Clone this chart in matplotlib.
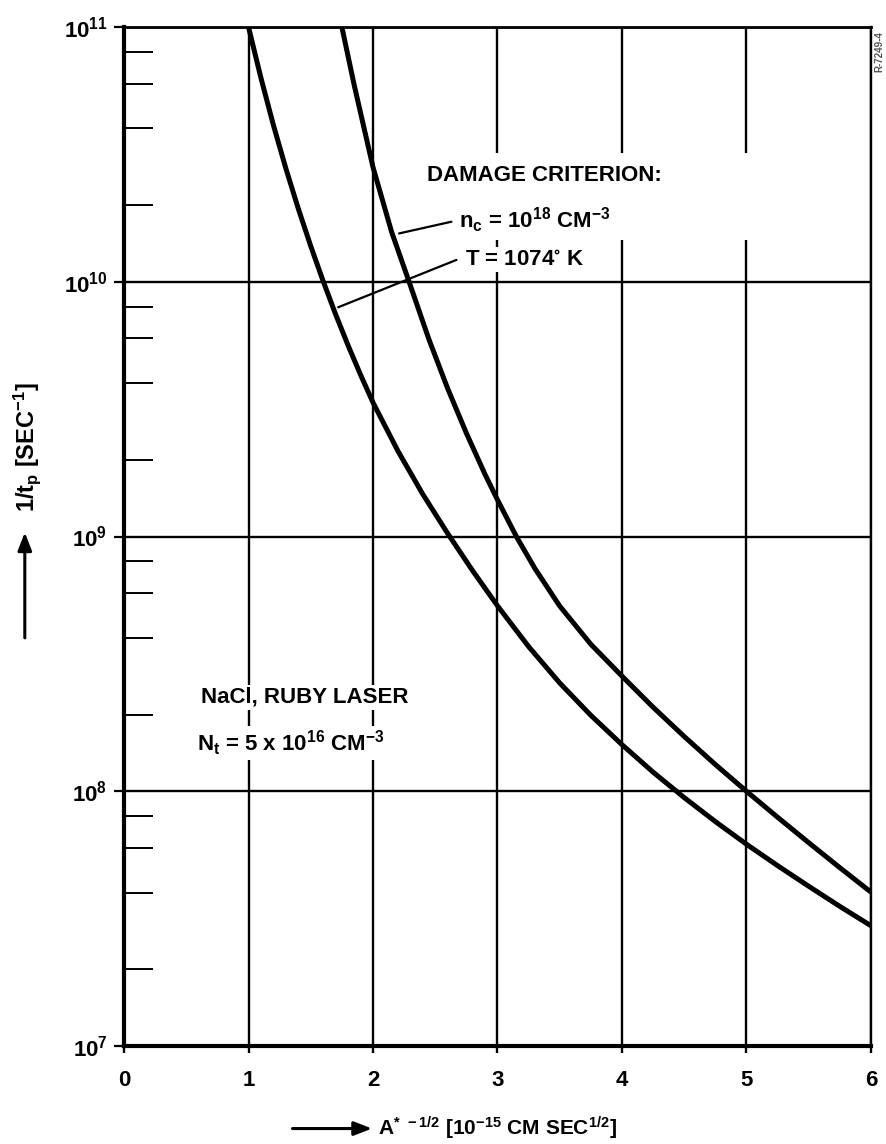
import numpy as np
import matplotlib
matplotlib.use('Agg')
import matplotlib.pyplot as plt
from matplotlib.patches import Rectangle, FancyArrowPatch

plt.rcParams['font.family'] = ['Liberation Sans Narrow', 'Liberation Sans', 'DejaVu Sans']
plt.rcParams['font.weight'] = 'bold'
plt.rcParams['mathtext.default'] = 'regular'

# lower curve: T = 1074 K criterion (x, log10 of 1/t_p)
temp_x = [1.00, 1.10, 1.20, 1.30, 1.40, 1.50, 1.60, 1.70, 1.80, 1.90, 2.00,
          2.20, 2.40, 2.60, 2.80, 3.00, 3.25, 3.50, 3.75, 4.00,
          4.25, 4.50, 4.75, 5.00, 5.25, 5.50, 5.75, 6.00]
temp_log = [11.00, 10.80, 10.615, 10.445, 10.287, 10.14, 10.002, 9.872, 9.75, 9.635, 9.526,
            9.336, 9.166, 9.012, 8.866, 8.728, 8.568, 8.425, 8.298, 8.183,
            8.075, 7.975, 7.881, 7.792, 7.708, 7.627, 7.548, 7.472]

# upper curve: n_c = 1e18 cm^-3 criterion
dens_x = [1.75, 1.85, 2.00, 2.15, 2.29, 2.45, 2.60, 2.75, 2.90, 3.00, 3.155,
          3.30, 3.50, 3.75, 4.00, 4.25, 4.50, 4.75, 5.00, 5.25, 5.50, 5.75, 6.00]
dens_log = [11.00, 10.77, 10.45, 10.195, 10.00, 9.773, 9.581, 9.406, 9.244, 9.144, 8.997,
            8.875, 8.727, 8.577, 8.452, 8.33, 8.215, 8.105, 8.00, 7.898, 7.798, 7.70, 7.604]

temp_y = 10.0 ** np.array(temp_log)
dens_y = 10.0 ** np.array(dens_log)

x_ticks = [0, 1, 2, 3, 4, 5, 6]
y_ticks = [1e7, 1e8, 1e9, 1e10, 1e11]
y_tick_labels = ['10$^{7}$', '10$^{8}$', '10$^{9}$', '10$^{10}$', '10$^{11}$']
minor_mult = [2, 4, 6, 8]

fig = plt.figure(figsize=(8.86, 11.44), dpi=100)
ax = fig.add_axes([0.140, 0.0857, 0.843, 0.8906])

ax.set_yscale('log')
ax.set_xlim(0, 6)
ax.set_ylim(1e7, 1e11)

ax.plot(temp_x, temp_y, color='black', lw=3.6, zorder=3, solid_capstyle='butt',
        solid_joinstyle='round')
ax.plot(dens_x, dens_y, color='black', lw=3.6, zorder=3, solid_capstyle='butt',
        solid_joinstyle='round')

# ticks and grid
ax.set_xticks(x_ticks)
ax.set_xticklabels([str(v) for v in x_ticks], fontsize=16, fontweight='bold')
ax.set_yticks(y_ticks)
ax.set_yticklabels(y_tick_labels, fontsize=16, fontweight='bold')
minor = [m * 10.0 ** e for e in range(7, 11) for m in minor_mult]
ax.set_yticks(minor, minor=True)
ax.yaxis.set_minor_formatter(plt.NullFormatter())
ax.xaxis.set_minor_locator(plt.NullLocator())

ax.grid(True, which='major', color='black', lw=1.7)
ax.tick_params(axis='y', which='major', direction='out', length=7, width=1.6, pad=5)
ax.tick_params(axis='y', which='minor', direction='in', length=21, width=1.4)
ax.tick_params(axis='x', which='major', direction='out', length=5, width=1.7, pad=12)

ax.spines['left'].set_linewidth(3.0)
ax.spines['bottom'].set_linewidth(3.0)
ax.spines['top'].set_linewidth(2.0)
ax.spines['right'].set_linewidth(1.7)

# white area behind the criterion notes
ax.add_patch(Rectangle((2.40, 10 ** 10.165), 2.68, 10 ** 10.506 - 10 ** 10.165,
                       facecolor='white', edgecolor='none', zorder=2))

box = dict(facecolor='white', edgecolor='none', pad=1.5)
ax.text(2.43, 10 ** 10.416, 'DAMAGE CRITERION:', fontsize=16, fontweight='bold',
        ha='left', va='center', zorder=4)
ax.text(2.69, 10 ** 10.24, 'n$_c$ = 10$^{18}$ CM$^{-3}$', fontsize=16, fontweight='bold',
        ha='left', va='center', zorder=4, bbox=box)
ax.text(2.74, 10 ** 10.086, 'T = 1074$^{\\circ}$ K', fontsize=16, fontweight='bold',
        ha='left', va='center', zorder=4, bbox=box)
ax.text(0.62, 10 ** 8.369, 'NaCl, RUBY LASER', fontsize=16, fontweight='bold',
        ha='left', va='center', zorder=4, bbox=box)
ax.text(0.59, 10 ** 8.19, 'N$_t$ = 5 x 10$^{16}$ CM$^{-3}$', fontsize=16, fontweight='bold',
        ha='left', va='center', zorder=4, bbox=box)

# leader lines
ax.annotate('', xy=(2.21, 10 ** 10.19), xytext=(2.63, 10 ** 10.236),
            arrowprops=dict(arrowstyle='-', lw=1.6, color='black', shrinkA=0, shrinkB=0),
            zorder=3)
ax.annotate('', xy=(1.72, 10 ** 9.90), xytext=(2.67, 10 ** 10.086),
            arrowprops=dict(arrowstyle='-', lw=1.6, color='black', shrinkA=0, shrinkB=0),
            zorder=3)

# axis labels with arrows
fig.patches.append(FancyArrowPatch(
    (0.028, 0.440), (0.028, 0.537), transform=fig.transFigure,
    arrowstyle='-|>,head_length=0.9,head_width=0.35', lw=2.2, color='black',
    mutation_scale=12))
fig.text(0.031, 0.609, '1/t$_p$ [SEC$^{-1}$]', rotation=90, fontsize=17,
         fontweight='bold', ha='center', va='center')

fig.patches.append(FancyArrowPatch(
    (0.327, 0.0135), (0.423, 0.0135), transform=fig.transFigure,
    arrowstyle='-|>,head_length=0.9,head_width=0.35', lw=2.2, color='black',
    mutation_scale=12))
fig.text(0.427, 0.0135, 'A$^{*\\ -1/2}$ [10$^{-15}$ CM SEC$^{1/2}$]', fontsize=15,
         fontweight='bold', ha='left', va='center')

fig.text(0.992, 0.955, 'R-7249-4', rotation=90, fontsize=7, color='#555555',
         ha='center', va='center')

fig.savefig('out.png', dpi=100, facecolor='white')
